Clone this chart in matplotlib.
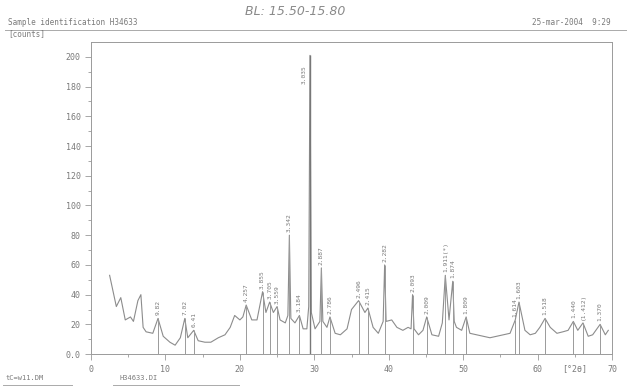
import numpy as np
import matplotlib.pyplot as plt

# Difractograma (2theta em graus, contagens)
dois_theta = [2.5, 3.4, 4.0, 4.6, 5.3, 5.7, 6.3, 6.7, 7.0, 7.4, 8.3, 9.0, 9.7, 10.6, 11.3,
              12.0, 12.6, 13.0, 13.8, 14.4, 15.3, 16.1, 17.1, 18.0, 18.7, 19.3, 20.0, 20.4,
              20.85, 21.6, 22.3, 23.05, 23.5, 24.0, 24.5, 25.0, 25.4, 26.1, 26.45, 26.65,
              26.85, 27.4, 28.0, 28.5, 29.0, 29.25, 29.42, 29.6, 30.1, 30.75, 30.95, 31.15,
              31.7, 32.1, 32.8, 33.5, 34.4, 35.0, 35.95, 36.8, 37.2, 37.9, 38.6, 39.25,
              39.45, 39.65, 40.4, 41.1, 41.9, 42.6, 43.0, 43.2, 43.4, 44.0, 44.6, 45.1,
              45.8, 46.7, 47.2, 47.6, 48.1, 48.6, 48.8, 49.1, 49.8, 50.4, 50.9, 51.8,
              52.7, 53.6, 54.5, 55.4, 56.3, 57.0, 57.5, 58.3, 59.0, 59.7, 60.3, 61.0,
              61.7, 62.6, 63.4, 64.1, 64.8, 65.4, 66.1, 66.8, 67.4, 68.4, 69.1, 69.5]
contagens = [53, 32, 38, 23, 25, 22, 36, 40, 18, 15, 14, 24, 12, 8, 6,
             11, 24, 11, 16, 9, 8, 8, 11, 13, 18, 26, 23, 25,
             33, 23, 23, 42, 28, 35, 28, 32, 23, 21, 26, 80,
             24, 21, 26, 17, 17, 32, 201, 28, 17, 22, 58, 22,
             18, 25, 14, 13, 17, 30, 36, 28, 31, 18, 14, 22,
             60, 22, 23, 18, 16, 18, 17, 40, 17, 13, 16, 25,
             13, 12, 21, 53, 23, 49, 22, 18, 16, 25, 14, 13,
             12, 11, 12, 13, 14, 23, 35, 16, 13, 14, 18, 24,
             18, 14, 15, 16, 22, 16, 21, 12, 13, 20, 13, 16]

# Picos marcados e distancias d (Angstrom)
picos_pos = [9.0, 12.6, 13.8, 20.85, 23.05, 24.0, 25.0, 26.65, 28.0, 30.95, 32.1,
             35.95, 37.2, 39.45, 43.2, 45.1, 47.6, 48.6, 50.4, 57.0, 57.5, 61.0,
             64.8, 66.1, 68.4]
picos_alt = [24, 24, 16, 33, 42, 35, 32, 80, 26, 58, 25,
             36, 31, 60, 40, 25, 53, 49, 25, 23, 35, 24,
             22, 21, 20]
picos_d = ['9.82', '7.02', '6.41', '4.257', '3.855', '3.705', '3.559', '3.342', '3.184',
           '2.887', '2.786', '2.496', '2.415', '2.282', '2.093', '2.009', '1.911(*)',
           '1.874', '1.809', '1.614', '1.603', '1.518', '1.440', '(1.412)', '1.370']

cinza = '#8c8c8c'
cor_txt = '#7a7a7a'

fig = plt.figure(figsize=(6.29, 3.87), dpi=100)
ax = fig.add_axes([0.1447, 0.085, 0.8283, 0.8065])

ax.plot(dois_theta, contagens, color=cinza, lw=0.8)
ax.vlines(picos_pos, 0, picos_alt, color='#9a9a9a', lw=0.7)
ax.vlines([29.42], 0, [201], color='#777777', lw=1.0)

for x, h, d in zip(picos_pos, picos_alt, picos_d):
    ax.text(x, h + 2, d, rotation=90, ha='center', va='bottom', fontsize=4.5,
            family='DejaVu Sans Mono', color=cor_txt)
ax.text(29.0, 182, '3.035', rotation=90, ha='right', va='bottom', fontsize=4.5,
        family='DejaVu Sans Mono', color=cor_txt)

ax.set_xlim(0, 70)
ax.set_ylim(0, 210)
ax.set_xticks(np.arange(0, 71, 10))
ax.set_xticks(np.arange(5, 70, 10), minor=True)
ax.set_xticklabels(['0', '10', '20', '30', '40', '50', '60', '70'])
ax.set_yticks(np.arange(0, 201, 20))
ax.set_yticks(np.arange(10, 210, 20), minor=True)
ax.set_yticklabels(['0.0'] + [str(v) for v in range(20, 201, 20)])
ax.tick_params(axis='both', colors='#999999', labelcolor=cor_txt, labelsize=6, length=4, width=0.6)
ax.tick_params(axis='both', which='minor', colors='#999999', length=2.5, width=0.6)
for lbl in ax.get_xticklabels() + ax.get_yticklabels():
    lbl.set_family('DejaVu Sans Mono')
for s in ax.spines.values():
    s.set_color('#9a9a9a')
    s.set_linewidth(0.7)

ax.text(65, -7, '[°2θ]', ha='center', va='top', fontsize=6,
        family='DejaVu Sans Mono', color=cor_txt)

# Cabecalho e rodape
fig.text(0.013, 0.943, 'Sample identification H34633', fontsize=5.5,
         family='DejaVu Sans Mono', color=cor_txt, va='center')
fig.text(0.97, 0.943, '25-mar-2004  9:29', fontsize=5.5, ha='right',
         family='DejaVu Sans Mono', color=cor_txt, va='center')
fig.add_artist(plt.Line2D([0.008, 0.995], [0.922, 0.922], color='#aaaaaa', lw=0.7))
fig.text(0.39, 0.97, 'BL: 15.50-15.80', fontsize=9, style='italic',
         color='#8a8a8a', va='center')
fig.text(0.013, 0.912, '[counts]', fontsize=5.5, family='DejaVu Sans Mono',
         color=cor_txt, va='center')
fig.text(0.008, 0.023, 'tC=w11.DM', fontsize=5, family='DejaVu Sans Mono',
         color=cor_txt, va='center')
fig.text(0.19, 0.023, 'H34633.DI', fontsize=5, family='DejaVu Sans Mono',
         color=cor_txt, va='center')
fig.add_artist(plt.Line2D([0.005, 0.115], [0.005, 0.005], color='#aaaaaa', lw=0.7))
fig.add_artist(plt.Line2D([0.18, 0.38], [0.005, 0.005], color='#aaaaaa', lw=0.7))

fig.savefig('out.png', dpi=100)
